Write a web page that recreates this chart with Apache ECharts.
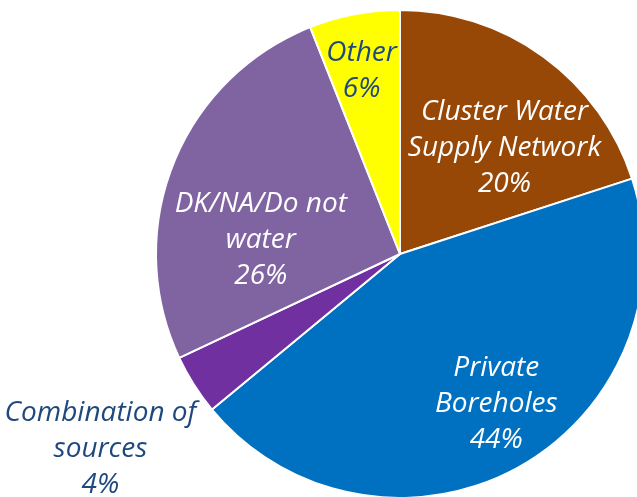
<!DOCTYPE html>
<html>
<head>
<meta charset="utf-8">
<script src="https://cdn.jsdelivr.net/npm/echarts@6/dist/echarts.min.js"></script>
<style>
  html, body { margin: 0; padding: 0; background: #fff; }
  #chart { width: 637px; height: 497px; }
</style>
</head>
<body>
<div id="chart"></div>
<script>
const categories = ['Cluster Water\nSupply Network', 'Private\nBoreholes', 'Combination of\nsources', 'DK/NA/Do not\nwater', 'Other']
const values = [20, 44, 4, 26, 6]
const colors = ['#974806', '#0070C0', '#7030A0', '#8064A2', '#FFFF00']

// label tweaks per slice (offset from the default inside spot)
const labelOffsets = [[31, -5], [36, 40], [-194, 128], [-23, 32], [-15, -60]]
const labelColors = ['#fff', '#fff', '#1F497D', '#fff', '#1F497D']

const chart = echarts.init(document.getElementById('chart'))
chart.setOption({
  animation: false,
  series: [
    {
      type: 'pie',
      center: [400, 254],
      radius: 244,
      startAngle: 90,
      clockwise: true,
      itemStyle: { borderColor: '#fff', borderWidth: 2 },
      label: {
        position: 'inside',
        fontFamily: 'Open Sans',
        fontStyle: 'italic',
        fontSize: 28,
        lineHeight: 36,
        align: 'center',
        formatter: (p) => p.name + '\n' + p.value + '%'
      },
      labelLine: { show: false },
      data: categories.map((name, i) => ({
        name,
        value: values[i],
        itemStyle: { color: colors[i] },
        label: { color: labelColors[i], offset: labelOffsets[i] }
      }))
    }
  ]
})
</script>
</body>
</html>
